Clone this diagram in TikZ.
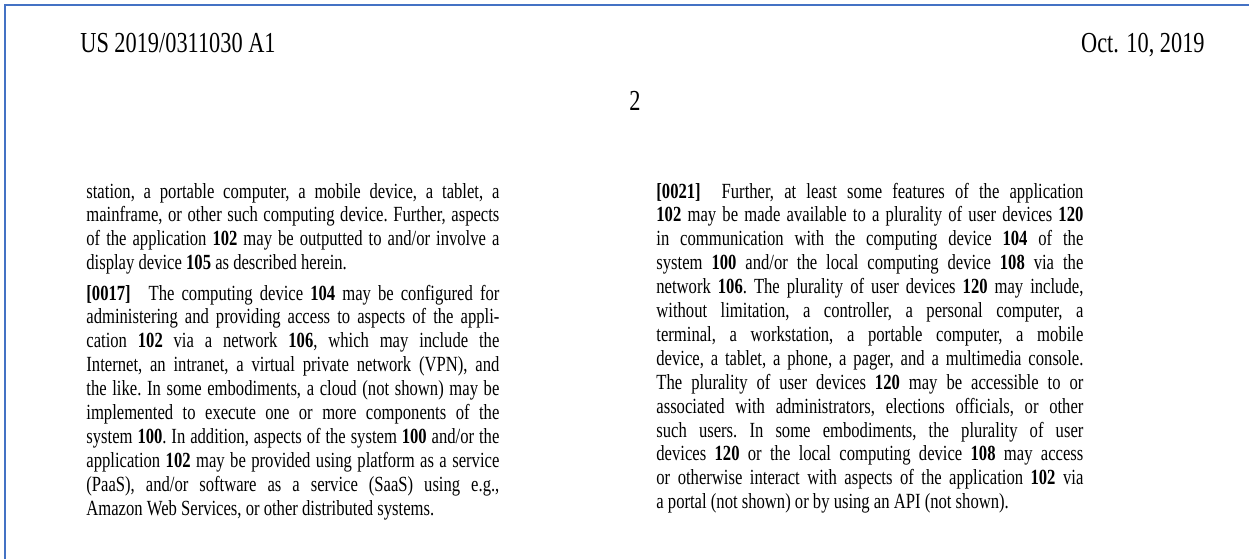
\documentclass[tikz,border=0pt]{standalone}
\usepackage{fontspec}
\setmainfont{Liberation Serif}[FakeStretch=0.77]
\usetikzlibrary{positioning}
\definecolor{frameblue}{RGB}{68,114,196}
\tolerance=10000
\hbadness=10000
\tikzset{
	head/.style={inner sep=0pt, font=\fontsize{14.5}{16}\selectfont},
	column/.style={inner sep=0pt, align=justify,
			font=\fontsize{10.8}{11.95}\selectfont\frenchspacing}
}

\begin{document}
\begin{tikzpicture}[x=0.5pt, y=-0.5pt]
	% Page area
	\useasboundingbox (0,0) rectangle (1249,559);
	\fill[white] (0,0) rectangle (1249,559);
	% Draw the frame
	\draw[frameblue, line width=1.25pt] (5,559) -- (5,5) -- (1249,5);
	% Header
	\node[head, anchor=base west] (docno) at (80,52) {US 2019/0311030 A1};
	\node[head, anchor=base east] (docdate) at (1205,52) {Oct. 10, 2019};
	\node[head, anchor=base] (pageno) at (635,110) {2};
	% Left column
	\node[column, text width=206.5pt, anchor=base west] (parcont) at (86,198) {station, a portable computer, a mobile device, a tablet, a\linebreak
		mainframe, or other such computing device. Further, aspects\linebreak
		of the application \textbf{102} may be outputted to and/or involve a\linebreak
		display device \textbf{105} as described herein.};
	\node[column, text width=206.5pt, anchor=base west] (par17) at (86,300) {\textbf{[0017]}\hspace{0.5em} The computing device \textbf{104} may be configured for\linebreak
		administering and providing access to aspects of the appli-\linebreak
		cation \textbf{102} via a network \textbf{106}, which may include the\linebreak
		Internet, an intranet, a virtual private network (VPN), and\linebreak
		the like. In some embodiments, a cloud (not shown) may be\linebreak
		implemented to execute one or more components of the\linebreak
		system \textbf{100}. In addition, aspects of the system \textbf{100} and/or the\linebreak
		application \textbf{102} may be provided using platform as a service\linebreak
		(PaaS), and/or software as a service (SaaS) using e.g.,\linebreak
		Amazon Web Services, or other distributed systems.};
	% Right column
	\node[column, text width=213.5pt, anchor=base west] (par21) at (656,198) {\textbf{[0021]}\hspace{0.5em} Further, at least some features of the application\linebreak
		\textbf{102} may be made available to a plurality of user devices \textbf{120}\linebreak
		in communication with the computing device \textbf{104} of the\linebreak
		system \textbf{100} and/or the local computing device \textbf{108} via the\linebreak
		network \textbf{106}. The plurality of user devices \textbf{120} may include,\linebreak
		without limitation, a controller, a personal computer, a\linebreak
		terminal, a workstation, a portable computer, a mobile\linebreak
		device, a tablet, a phone, a pager, and a multimedia console.\linebreak
		The plurality of user devices \textbf{120} may be accessible to or\linebreak
		associated with administrators, elections officials, or other\linebreak
		such users. In some embodiments, the plurality of user\linebreak
		devices \textbf{120} or the local computing device \textbf{108} may access\linebreak
		or otherwise interact with aspects of the application \textbf{102} via\linebreak
		a portal (not shown) or by using an API (not shown).};
\end{tikzpicture}
\end{document}
